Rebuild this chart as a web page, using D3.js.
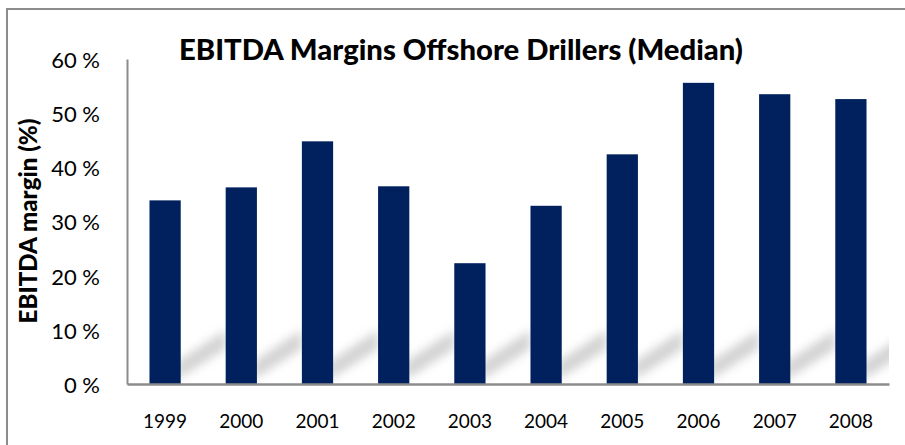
<!DOCTYPE html>
<html>
<head>
<meta charset="utf-8">
<script src="https://cdn.jsdelivr.net/npm/d3@7"></script>
<style>
  html, body { margin: 0; padding: 0; background: #fff; }
  svg { display: block; }
  text { font-family: Lato, "Open Sans", sans-serif; fill: #000; }
</style>
</head>
<body>
<svg id="chart" width="905" height="445"></svg>
<script>
// EBITDA margin (median) of offshore drillers, per year
const years = ["1999", "2000", "2001", "2002", "2003", "2004", "2005", "2006", "2007", "2008"];
const margins = [33.9, 36.3, 44.8, 36.5, 22.3, 32.9, 42.4, 55.6, 53.5, 52.6];
const yTicks = [0, 10, 20, 30, 40, 50, 60];

const W = 905, H = 445;
const plot = { left: 127, right: 889, top: 59, bottom: 384 };
const barColor = "#01215e";

const svg = d3.select("#chart");

const x = d3.scaleBand().domain(years).range([plot.left, plot.right]).paddingInner(0.59).paddingOuter(0.295);
const y = d3.scaleLinear().domain([0, 60]).range([plot.bottom, plot.top]);

const defs = svg.append("defs");
defs.append("filter").attr("id", "soft").attr("x", "-30%").attr("y", "-50%").attr("width", "160%").attr("height", "200%")
  .append("feGaussianBlur").attr("stdDeviation", 5);
defs.append("clipPath").attr("id", "plotClip")
  .append("rect").attr("x", plot.left).attr("y", plot.top)
  .attr("width", plot.right - plot.left).attr("height", plot.bottom - plot.top);

// outer frame (top and left edges visible)
svg.append("path")
  .attr("d", `M7,${H} V9 H${W}`)
  .attr("fill", "none").attr("stroke", "#8c8c8c").attr("stroke-width", 2);

// soft diagonal shadows cast to the right of each bar
const shadows = svg.append("g").attr("clip-path", "url(#plotClip)")
  .append("g").attr("filter", "url(#soft)");
years.forEach(yr => {
  const x0 = x(yr) + x.bandwidth();
  const x1 = x0 + x.step() - x.bandwidth();
  shadows.append("path")
    .attr("d", `M${x0 - 4},${plot.bottom - 4} L${x0 - 4},${plot.bottom - 22} L${x1},${y(10)} L${x1},${y(6.5)} Z`)
    .attr("fill", "#c4c4c4").attr("opacity", 0.75);
});

// bars
svg.append("g").selectAll("rect")
  .data(years.map((yr, i) => ({ yr, v: margins[i] })))
  .join("rect")
  .attr("x", d => x(d.yr))
  .attr("y", d => y(d.v))
  .attr("width", x.bandwidth())
  .attr("height", d => y(0) - y(d.v))
  .attr("fill", barColor);

// y axis
const yAxis = svg.append("g")
  .attr("transform", `translate(${plot.left},0)`)
  .call(d3.axisLeft(y).tickValues(yTicks).tickSize(0).tickPadding(27).tickFormat(d => d + " %"));
yAxis.select(".domain").attr("stroke", "#8c8c8c").attr("stroke-width", 2);
yAxis.selectAll("text").attr("font-size", 22).attr("dy", "0.38em").style("font-family", "Lato, sans-serif");

// x axis
const xAxis = svg.append("g")
  .attr("transform", `translate(0,${plot.bottom})`)
  .call(d3.axisBottom(x).tickSize(0).tickPadding(31));
xAxis.select(".domain").attr("stroke", "#8c8c8c").attr("stroke-width", 2.5);
xAxis.selectAll("text").attr("font-size", 19).style("font-family", "Lato, sans-serif");

// title
const title = svg.append("text")
  .attr("x", 461).attr("y", 60)
  .attr("text-anchor", "middle")
  .attr("font-size", 24).attr("font-weight", "900")
  .text("EBITDA Margins Offshore Drillers (Median)");
const tw = title.node().getComputedTextLength();
title.attr("font-size", 24 * 564 / tw);

// y axis title
const yTitle = svg.append("text")
  .attr("transform", "translate(37,221) rotate(-90)")
  .attr("text-anchor", "middle")
  .attr("font-size", 20).attr("font-weight", "900")
  .text("EBITDA margin (%)");
const yw = yTitle.node().getComputedTextLength();
yTitle.attr("font-size", 20 * 205 / yw);
</script>
</body>
</html>
